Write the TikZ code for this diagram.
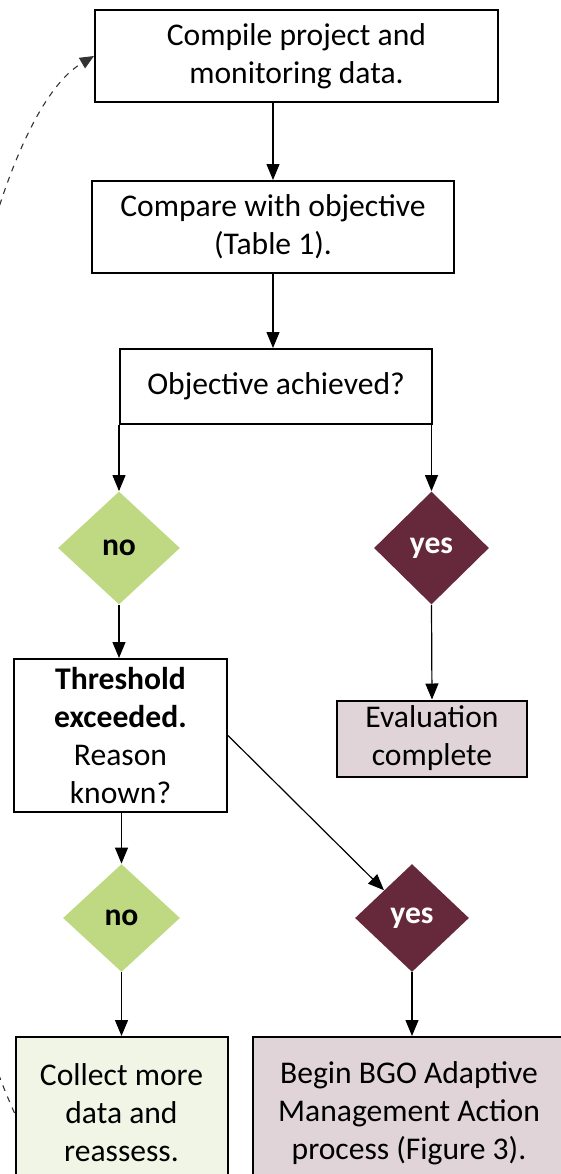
\documentclass[tikz,border=0pt]{standalone}
\usepackage{fontspec}
\setmainfont{Carlito}
\usepackage{xcolor}
\usepackage{tikz}
\usetikzlibrary{positioning, arrows.meta, shapes.geometric}
\definecolor{leafgreen}{HTML}{BED981}
\definecolor{wine}{HTML}{66293B}
\definecolor{paleleaf}{HTML}{F1F5E6}
\definecolor{palewine}{HTML}{E0D4D9}

\begin{document}
\begin{tikzpicture}[
    x=0.5pt, y=-0.5pt,
    every node/.style={
        align=center,
        font=\fontsize{15.8}{19}\selectfont,
        inner sep=2pt
    },
    box/.style={draw, line width=1pt, fill=white},
    nodia/.style={diamond, fill=leafgreen, inner sep=0pt, font=\fontsize{15.8}{19}\selectfont\bfseries},
    yesdia/.style={diamond, fill=wine, text=white, inner sep=0pt, font=\fontsize{15.8}{19}\selectfont\bfseries},
    arrow/.style={-{Triangle[length=8pt,width=6.5pt]}, line width=0.6pt},
    loopback/.style={-{Triangle[length=7pt,width=6pt]}, dashed, line width=0.55pt, black!80}
]
\useasboundingbox (0,0) rectangle (561,1174);

\node[box, minimum width=201.5pt, minimum height=46pt] (compile) at (296.5,56) {Compile project and\\monitoring data.};
\node[box, minimum width=181pt, minimum height=46pt] (compare) at (273,227) {Compare with objective\\(Table 1).};
\node[box, minimum width=156pt, minimum height=37.5pt] (achieved) at (276,386.5) {Objective achieved?};

\node[nodia, minimum width=61pt, minimum height=56.5pt] (no1) at (119,548) {no};
\node[yesdia, minimum width=57.5pt, minimum height=56.5pt] (yes1) at (431.5,548) {yes};

\node[box, minimum width=106.5pt, minimum height=76.5pt] (thresh) at (120.5,735.5) {\textbf{Threshold}\\\textbf{exceeded.}\\Reason\\known?};
\node[box, fill=palewine, minimum width=95pt, minimum height=38pt] (evaldone) at (432,738.5) {Evaluation\\complete};

\node[nodia, minimum width=58.5pt, minimum height=54pt] (no2) at (121.5,918) {no};
\node[yesdia, minimum width=57pt, minimum height=54pt] (yes2) at (412,918) {yes};

\node[box, fill=paleleaf, minimum width=106pt, minimum height=76pt] (collect) at (121.5,1113) {Collect more\\data and\\reassess.};
\node[box, fill=palewine, minimum width=156pt, minimum height=76pt] (beginbgo) at (409,1113) {Begin BGO Adaptive\\Management Action\\process (Figure 3).};

\draw[arrow] (compare.north |- compile.south) -- (compare.north);
\draw[arrow] (compare.south) -- (compare.south |- achieved.north);
\draw[arrow] (no1.north |- achieved.south) -- (no1.north);
\draw[arrow] (yes1.north |- achieved.south) -- (yes1.north);
\draw[arrow] (no1.south) -- (no1.south |- thresh.north);
\draw[arrow] (yes1.south) -- (evaldone.north);
\draw[arrow] (no2.north |- thresh.south) -- (no2.north);
\draw[arrow] (thresh.east) -- (yes2);
\draw[arrow] (no2.south) -- (collect.north);
\draw[arrow] (yes2.south) -- (yes2.south |- beginbgo.north);

% back to the start
\draw[loopback] (collect.west) .. controls (-140,770) and (-40,135) .. (compile.west);

\end{tikzpicture}
\end{document}
